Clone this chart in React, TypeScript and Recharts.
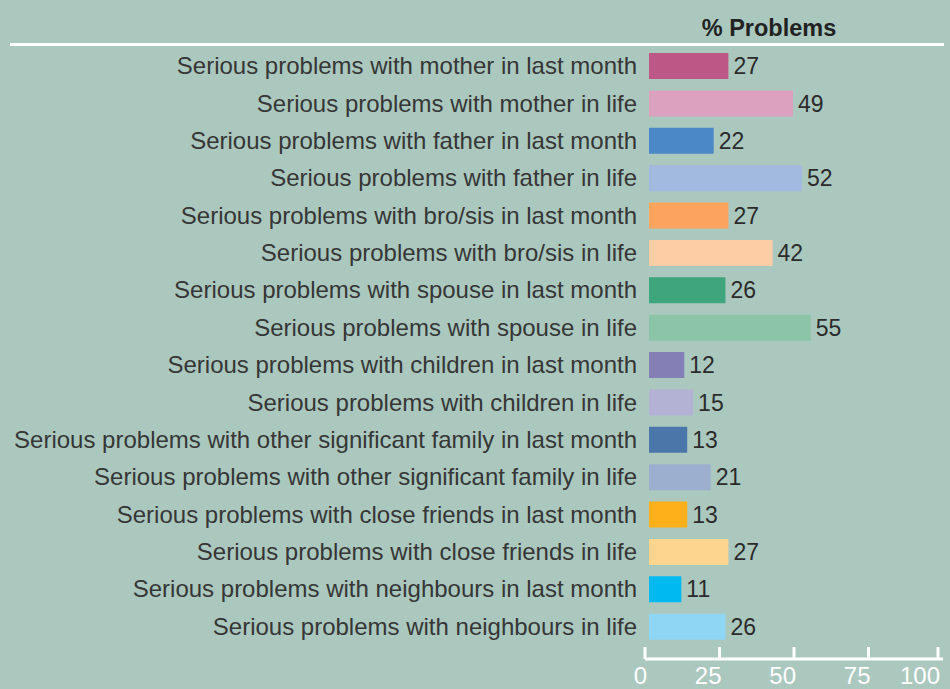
import React from "react";
import { ComposedChart, Bar, Line, XAxis, YAxis, Cell, LabelList } from "recharts";

const categories = [
  "Serious problems with mother in last month",
  "Serious problems with mother in life",
  "Serious problems with father in last month",
  "Serious problems with father in life",
  "Serious problems with bro/sis in last month",
  "Serious problems with bro/sis in life",
  "Serious problems with spouse in last month",
  "Serious problems with spouse in life",
  "Serious problems with children in last month",
  "Serious problems with children in life",
  "Serious problems with other significant family in last month",
  "Serious problems with other significant family in life",
  "Serious problems with close friends in last month",
  "Serious problems with close friends in life",
  "Serious problems with neighbours in last month",
  "Serious problems with neighbours in life",
];

const values = [27, 49, 22, 52, 27, 42, 26, 55, 12, 15, 13, 21, 13, 27, 11, 26];

const colors = [
  "#bd5786", "#dca1be", "#4b88c8", "#a2b9e0",
  "#fca35d", "#fdcea6", "#3fa57c", "#8cc4a8",
  "#8480b6", "#b3b2d5", "#4b76a9", "#9cafcf",
  "#fdb019", "#fed58e", "#00b9ef", "#8fd6f5",
];

const xTicks = [0, 25, 50, 75, 100];

const data = categories.map((name, i) => ({ name, value: values[i] }));

const FONT = "'Liberation Sans', Arial, sans-serif";

function YTick(props: any) {
  const { x, y, payload } = props;
  return (
    <text x={x} y={y} dy={8.5} textAnchor="end" fontSize={24} fill="#363636" fontFamily={FONT}>
      {payload.value}
    </text>
  );
}

function XTick(props: any) {
  const { x, y, payload } = props;
  return (
    <g>
      <line x1={x} x2={x} y1={y - 12} y2={y} stroke="#fff" strokeWidth={3} />
      <text x={x + 2} y={y} dy={25} textAnchor="end" fontSize={24} fill="#fff" fontFamily={FONT}>
        {payload.value}
      </text>
    </g>
  );
}

export default function App() {
  return (
    <div style={{ position: "relative", width: 950, height: 689, background: "#abc8bf", fontFamily: FONT }}>
      <style>{`body{margin:0}`}</style>
      <div
        style={{
          position: "absolute",
          left: 10,
          top: 43,
          width: 934,
          height: 3,
          background: "#fff",
        }}
      />
      <div
        style={{
          position: "absolute",
          left: 669,
          width: 200,
          top: 15,
          textAlign: "center",
          fontSize: 23.5,
          fontWeight: "bold",
          color: "#222",
        }}
      >
        % Problems
      </div>
      <ComposedChart
        width={950}
        height={689}
        data={data}
        layout="vertical"
        margin={{ top: 47, right: 7, bottom: 0, left: 0 }}
      >
        <XAxis
          xAxisId="bars"
          type="number"
          domain={[0, 100]}
          padding={{ left: 4, right: 0 }}
          hide
        />
        <XAxis
          xAxisId="axis"
          type="number"
          domain={[0, 100]}
          ticks={xTicks}
          height={30}
          axisLine={{ stroke: "#fff", strokeWidth: 3 }}
          tickLine={false}
          tick={<XTick />}
          tickMargin={0}
          tickSize={0}
        />
        <YAxis
          type="category"
          dataKey="name"
          width={645}
          axisLine={false}
          tickLine={false}
          tickSize={0}
          tickMargin={8}
          tick={<YTick />}
          padding={{ top: 0, bottom: 14 }}
          interval={0}
        />
        <Bar dataKey="value" xAxisId="bars" barSize={26} isAnimationActive={false}>
          {data.map((d, i) => (
            <Cell key={i} fill={colors[i]} />
          ))}
          <LabelList dataKey="value" position="right" offset={5} fontSize={23} fill="#2b2b2b" fontFamily={FONT} />
        </Bar>
        <Line
          dataKey="value"
          xAxisId="axis"
          stroke="none"
          dot={false}
          activeDot={false}
          isAnimationActive={false}
        />
      </ComposedChart>
    </div>
  );
}
